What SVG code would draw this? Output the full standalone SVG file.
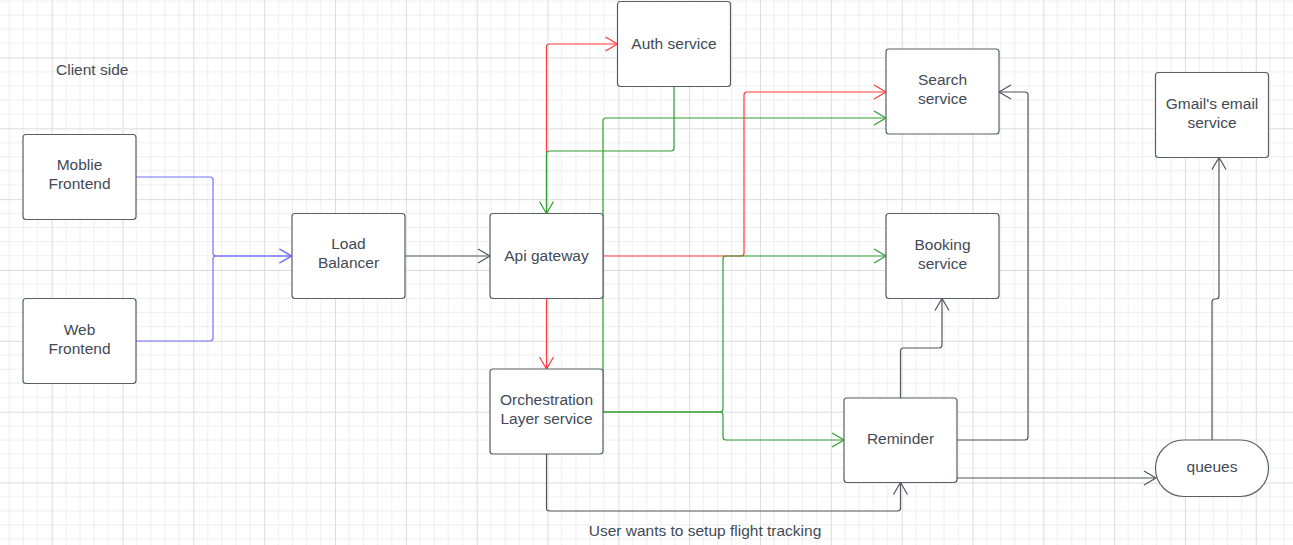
<svg xmlns="http://www.w3.org/2000/svg" width="1293" height="545" viewBox="0 0 1293 545">
<style>
.node rect{fill:#ffffff;stroke:#585e66;stroke-width:1.2}
.node text,.lbl{font-family:"Liberation Sans",Arial,sans-serif;font-size:15.5px;fill:#434a55;text-anchor:middle}
.c{fill:none;stroke-width:1.2}
.gray{stroke:#50565e}
.red{stroke:#ff3b3b}
.green{stroke:#2f9e2f}
.blue{stroke:#7373ff}
</style>
<defs>
<pattern id="grid" x="51.7" y="57.5" width="70.83" height="70.83" patternUnits="userSpaceOnUse">
<path d="M14.17,0V70.83M28.33,0V70.83M42.5,0V70.83M56.67,0V70.83M0,14.17H70.83M0,28.33H70.83M0,42.5H70.83M0,56.67H70.83" stroke="#eeeeee" stroke-width="1" fill="none"/>
<path d="M0.5,0V70.83M0,0.5H70.83" stroke="#dcdcdc" stroke-width="1" fill="none"/>
</pattern>
<marker id="aGray" markerUnits="userSpaceOnUse" markerWidth="16" markerHeight="18" refX="13" refY="8" orient="auto" viewBox="0 0 16 16"><path d="M1,1 L13,8 L1,15" fill="none" stroke="#50565e" stroke-width="1.2"/></marker>
<marker id="aRed" markerUnits="userSpaceOnUse" markerWidth="16" markerHeight="18" refX="13" refY="8" orient="auto" viewBox="0 0 16 16"><path d="M1,1 L13,8 L1,15" fill="none" stroke="#ff3b3b" stroke-width="1.2"/></marker>
<marker id="aGreen" markerUnits="userSpaceOnUse" markerWidth="16" markerHeight="18" refX="13" refY="8" orient="auto" viewBox="0 0 16 16"><path d="M1,1 L13,8 L1,15" fill="none" stroke="#2f9e2f" stroke-width="1.2"/></marker>
<marker id="aBlue" markerUnits="userSpaceOnUse" markerWidth="16" markerHeight="18" refX="13" refY="8" orient="auto" viewBox="0 0 16 16"><path d="M1,1 L13,8 L1,15" fill="none" stroke="#7373ff" stroke-width="1.2"/></marker>
</defs>
<rect x="0" y="0" width="1293" height="545" fill="#ffffff"/>
<rect x="0" y="0" width="1293" height="545" fill="url(#grid)"/>

<g id="connectors">
<path class="c blue" d="M136,177 H210 Q213,177 213,180 V253 Q213,256 216,256 H291.5" marker-end="url(#aBlue)"/>
<path class="c blue" d="M136,341 H210 Q213,341 213,338 V259 Q213,256 216,256 H291.5" marker-end="url(#aBlue)"/>
<path class="c gray" d="M405,256 H490" marker-end="url(#aGray)"/>
<path class="c red" d="M546.5,213.5 V47 Q546.5,44 549.5,44 H617.5" marker-end="url(#aRed)"/>
<path class="c green" d="M674,86.5 V148 Q674,151 671,151 H549.5 Q546.5,151 546.5,154 V213.5" marker-end="url(#aGreen)"/>
<path class="c red" d="M546.5,298.5 V369" marker-end="url(#aRed)"/>
<path class="c green" d="M603,412 V121 Q603,118 606,118 H886" marker-end="url(#aGreen)"/>
<path class="c red" d="M603,256 H741 Q744,256 744,253 V95 Q744,92 747,92 H886" marker-end="url(#aRed)"/>
<path class="c green" d="M603,412 H720 Q723,412 723,409 V259 Q723,256 726,256 H886" marker-end="url(#aGreen)"/>
<path class="c green" d="M603,412 H720 Q723,412 723,415 V437 Q723,440 726,440 H844" marker-end="url(#aGreen)"/>
<path class="c gray" d="M900.5,398 V351 Q900.5,348 903.5,348 H939 Q942,348 942,345 V298.5" marker-end="url(#aGray)"/>
<path class="c gray" d="M546.5,454 V508 Q546.5,511 549.5,511 H897.5 Q900.5,511 900.5,508 V482.5" marker-end="url(#aGray)"/>
<path class="c gray" d="M957,440 H1025 Q1028,440 1028,437 V95 Q1028,92 1025,92 H999" marker-end="url(#aGray)"/>
<path class="c gray" d="M957,478 H1156" marker-end="url(#aGray)"/>
<path class="c gray" d="M1212,440 V302 Q1212,299 1215,299 H1216 Q1219,299 1219,296 V157.5" marker-end="url(#aGray)"/>
<text class="lbl" x="705" y="536">User wants to setup flight tracking</text>
</g>

<text id="client-side" x="56" y="74.5" style="font-family:'Liberation Sans',Arial,sans-serif;font-size:15.5px;fill:#434a55">Client side</text>

<g id="mobile-frontend" class="node"><rect x="23" y="134.5" width="113" height="85" rx="3"/><text x="79.5" y="170">Moblie</text><text x="79.5" y="189">Frontend</text></g>
<g id="web-frontend" class="node"><rect x="23" y="298.5" width="113" height="85" rx="3"/><text x="79.5" y="334.5">Web</text><text x="79.5" y="353.5">Frontend</text></g>
<g id="load-balancer" class="node"><rect x="292" y="213.5" width="113" height="85" rx="3"/><text x="348.5" y="249">Load</text><text x="348.5" y="268">Balancer</text></g>
<g id="api-gateway" class="node"><rect x="490" y="213.5" width="113" height="85" rx="3"/><text x="546.5" y="260.5">Api gateway</text></g>
<g id="auth-service" class="node"><rect x="617.5" y="1.5" width="113" height="85" rx="3"/><text x="674" y="48.5">Auth service</text></g>
<g id="orchestration" class="node"><rect x="490" y="369" width="113" height="85" rx="3"/><text x="546.5" y="405">Orchestration</text><text x="546.5" y="424">Layer service</text></g>
<g id="search-service" class="node"><rect x="886" y="49" width="113" height="85" rx="3"/><text x="942.5" y="85">Search</text><text x="942.5" y="104">service</text></g>
<g id="booking-service" class="node"><rect x="886" y="213.5" width="113" height="85" rx="3"/><text x="942.5" y="249.5">Booking</text><text x="942.5" y="268.5">service</text></g>
<g id="reminder" class="node"><rect x="844" y="398" width="113" height="84.5" rx="3"/><text x="900.5" y="444">Reminder</text></g>
<g id="gmail" class="node"><rect x="1155.5" y="72.5" width="113" height="85" rx="3"/><text x="1212" y="108.5">Gmail's email</text><text x="1212" y="127.5">service</text></g>
<g id="queues" class="node"><rect x="1155.5" y="440" width="113" height="56.5" rx="28"/><text x="1212" y="472">queues</text></g>
</svg>
